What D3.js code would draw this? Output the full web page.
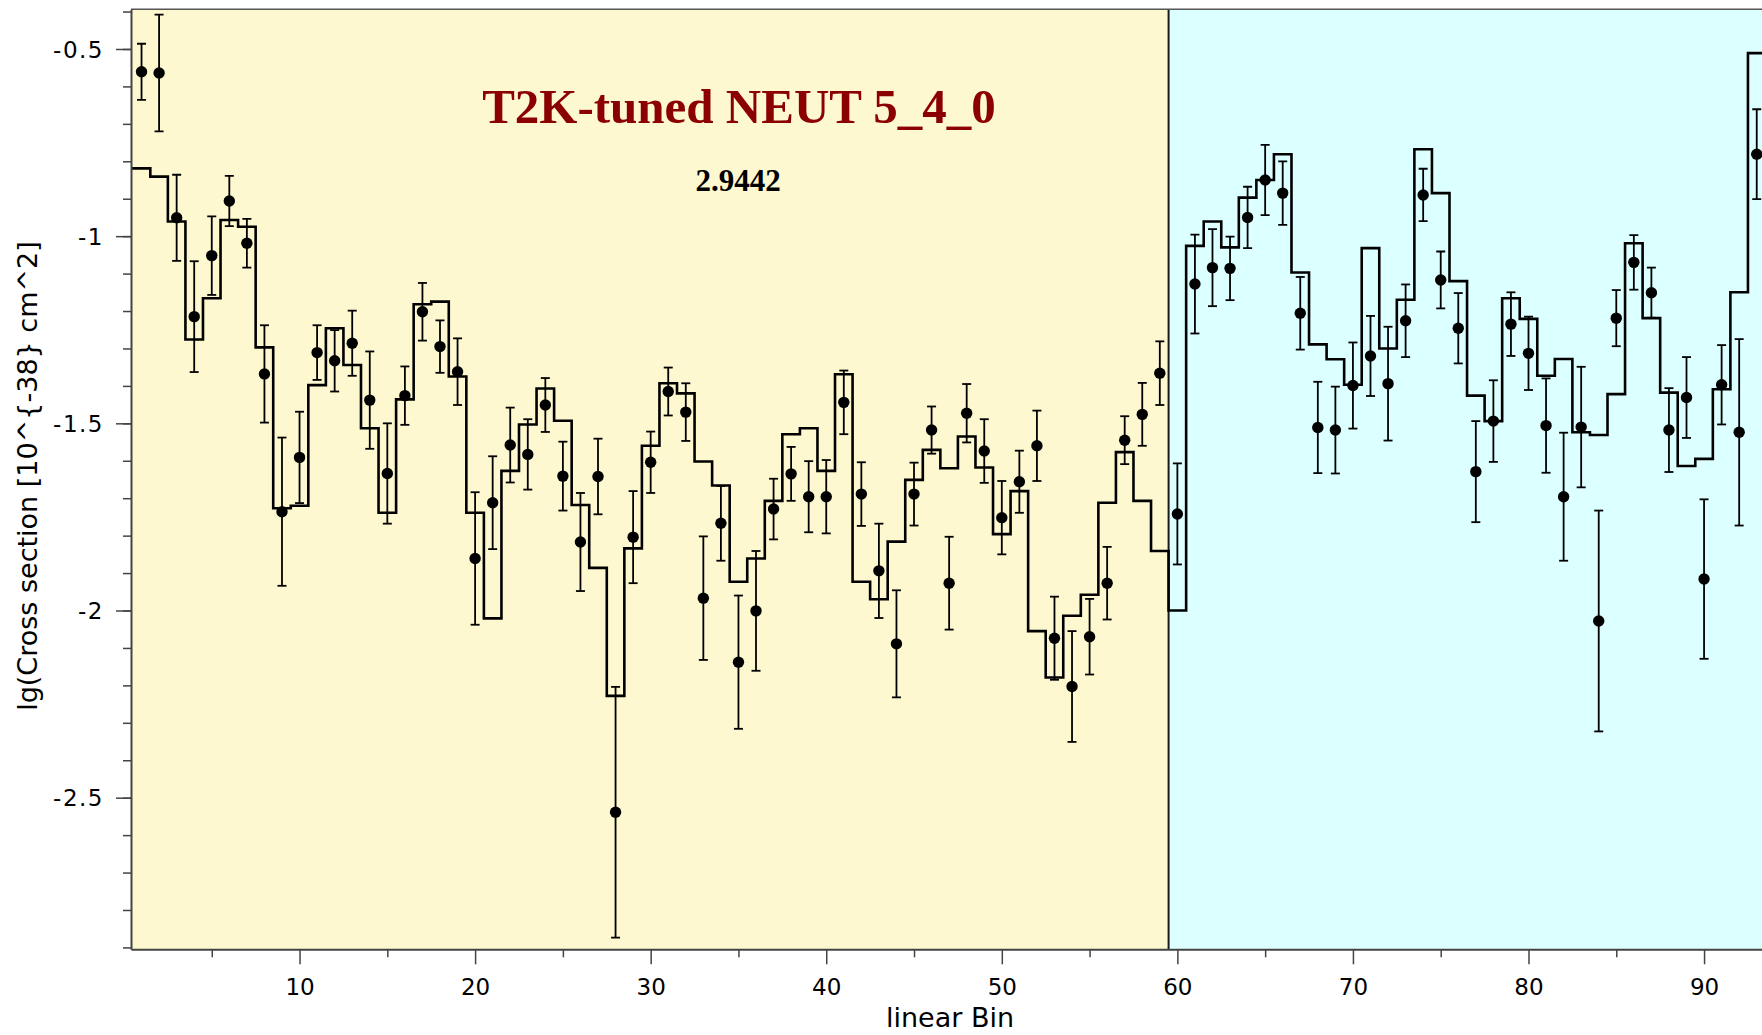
<!DOCTYPE html>
<html>
<head>
<meta charset="utf-8">
<script src="https://cdn.jsdelivr.net/npm/d3@7"></script>
<style>
  html, body { margin: 0; padding: 0; background: #ffffff; }
  svg { display: block; }
</style>
</head>
<body>
<svg id="chart" width="1762" height="1035"></svg>
<script>
// ---------------- data ----------------
const bins = d3.range(1, 94); // linear bin index 1..93

// data points (lg cross section)
const dataValues = [
  -0.561, -0.564, -0.951, -1.215, -1.052, -0.906, -1.019, -1.368, -1.736, -1.591,
  -1.311, -1.333, -1.286, -1.438, -1.634, -1.426, -1.202, -1.295, -1.362, -1.861,
  -1.712, -1.558, -1.583, -1.451, -1.641, -1.817, -1.642, -2.539, -1.804, -1.604,
  -1.415, -1.470, -1.967, -1.767, -2.138, -2.001, -1.729, -1.635, -1.696, -1.696,
  -1.444, -1.689, -1.894, -2.089, -1.689, -1.518, -1.927, -1.473, -1.574, -1.752,
  -1.656, -1.560, -2.074, -2.203, -2.070, -1.927, -1.545, -1.476, -1.366, -1.742,
  -1.128, -1.084, -1.086, -0.950, -0.850, -0.885, -1.206, -1.511, -1.518, -1.399,
  -1.320, -1.394, -1.226, -0.890, -1.117, -1.246, -1.629, -1.494, -1.235, -1.313,
  -1.506, -1.696, -1.510, -2.028, -1.219, -1.070, -1.151, -1.518, -1.431, -1.916,
  -1.397, -1.524, -0.781
];

// symmetric errors on the data points
const dataErrors = [
  0.075, 0.156, 0.115, 0.148, 0.105, 0.067, 0.065, 0.130, 0.198, 0.122,
  0.073, 0.082, 0.087, 0.130, 0.134, 0.078, 0.077, 0.070, 0.089, 0.177,
  0.124, 0.100, 0.094, 0.072, 0.092, 0.131, 0.101, 0.335, 0.123, 0.082,
  0.064, 0.077, 0.165, 0.100, 0.178, 0.160, 0.081, 0.072, 0.095, 0.098,
  0.085, 0.085, 0.126, 0.143, 0.084, 0.063, 0.124, 0.078, 0.085, 0.098,
  0.083, 0.094, 0.111, 0.148, 0.101, 0.097, 0.064, 0.084, 0.085, 0.135,
  0.132, 0.103, 0.085, 0.082, 0.094, 0.085, 0.097, 0.122, 0.116, 0.115,
  0.107, 0.152, 0.097, 0.070, 0.076, 0.094, 0.135, 0.109, 0.085, 0.098,
  0.126, 0.171, 0.161, 0.295, 0.075, 0.073, 0.067, 0.112, 0.108, 0.213,
  0.106, 0.249, 0.120
];

// model prediction histogram (T2K-tuned NEUT 5_4_0)
const modelValues = [
  -0.819, -0.841, -0.961, -1.276, -1.166, -0.957, -0.975, -1.297, -1.727, -1.720,
  -1.398, -1.246, -1.344, -1.513, -1.739, -1.436, -1.182, -1.175, -1.375, -1.739,
  -2.021, -1.627, -1.503, -1.407, -1.493, -1.718, -1.886, -2.228, -1.834, -1.560,
  -1.393, -1.420, -1.602, -1.666, -1.923, -1.861, -1.707, -1.529, -1.513, -1.627,
  -1.369, -1.923, -1.970, -1.816, -1.651, -1.571, -1.620, -1.535, -1.618, -1.796,
  -1.681, -2.055, -2.179, -2.014, -1.958, -1.712, -1.577, -1.707, -1.841, -2.000,
  -1.026, -0.961, -1.030, -0.897, -0.850, -0.781, -1.097, -1.289, -1.329, -1.397,
  -1.032, -1.300, -1.170, -0.768, -0.885, -1.120, -1.426, -1.494, -1.166, -1.221,
  -1.373, -1.328, -1.524, -1.531, -1.422, -1.019, -1.219, -1.418, -1.614, -1.595,
  -1.409, -1.150, -0.511
];

// shaded regions along the linear bin axis
const regionEdges = [0.4, 59.5, 93.3];
const regionColors = ["#fdf8cf", "#dcffff"];

const xTickValues = [10, 20, 30, 40, 50, 60, 70, 80, 90];
const xTickLabels = ["10", "20", "30", "40", "50", "60", "70", "80", "90"];
const xMinorTicks = [5, 15, 25, 35, 45, 55, 65, 75, 85];
const yTickValues = [-2.5, -2, -1.5, -1, -0.5];
const yTickLabels = ["-2.5", "-2", "-1.5", "-1", "-0.5"];
const yMinorTicks = d3.range(-29, -3).map(v => v / 10);

const titleText = "T2K-tuned NEUT 5_4_0";
const chi2Text = "2.9442";
const xTitle = "linear Bin";
const yTitle = "lg(Cross section [10^{-38} cm^2]";

// ---------------- drawing ----------------
(function draw() {
const svg = d3.select("#chart");
const W = 1762;
const pLeft = 131, pTop = 9.3, pBottom = 949.3;

const x = d3.scaleLinear().domain([0.4, 93.3]).range([pLeft, W]);
const y = d3.scaleLinear().domain([-2.905, -0.394]).range([pBottom, pTop]);

const defs = svg.append("defs");
defs.append("clipPath").attr("id", "plotclip")
  .append("rect").attr("x", pLeft).attr("y", pTop)
  .attr("width", W - pLeft).attr("height", pBottom - pTop);

const plot = svg.append("g").attr("clip-path", "url(#plotclip)");

// background regions
plot.selectAll("rect.region")
  .data(regionColors)
  .join("rect")
  .attr("class", "region")
  .attr("x", (d, i) => x(regionEdges[i]))
  .attr("y", pTop)
  .attr("width", (d, i) => x(regionEdges[i + 1]) - x(regionEdges[i]))
  .attr("height", pBottom - pTop)
  .attr("fill", d => d);

// region divider
plot.append("line")
  .attr("x1", x(regionEdges[1])).attr("x2", x(regionEdges[1]))
  .attr("y1", pTop).attr("y2", pBottom)
  .attr("stroke", "#1a1a1a").attr("stroke-width", 2);

// model histogram (steps)
const stepPts = bins.map((b, i) => [i === 0 ? x.domain()[0] : b - 0.5, modelValues[i]]);
stepPts.push([bins[bins.length - 1] + 0.5, modelValues[modelValues.length - 1]]);
const stepLine = d3.line()
  .x(d => x(d[0]))
  .y(d => y(d[1]))
  .curve(d3.curveStepAfter);
plot.append("path")
  .datum(stepPts)
  .attr("d", stepLine)
  .attr("fill", "none")
  .attr("stroke", "#000")
  .attr("stroke-width", 2.6)
  .attr("stroke-linejoin", "miter");

// error bars
const capW = 4.5;
const eb = plot.append("g").attr("stroke", "#000").attr("stroke-width", 1.8);
bins.forEach((b, i) => {
  const cx = x(b), yv = dataValues[i], e = dataErrors[i];
  eb.append("line").attr("x1", cx).attr("x2", cx)
    .attr("y1", y(yv + e)).attr("y2", y(yv - e));
  eb.append("line").attr("x1", cx - capW).attr("x2", cx + capW)
    .attr("y1", y(yv + e)).attr("y2", y(yv + e));
  eb.append("line").attr("x1", cx - capW).attr("x2", cx + capW)
    .attr("y1", y(yv - e)).attr("y2", y(yv - e));
});

// data points
plot.selectAll("circle.pt")
  .data(bins)
  .join("circle")
  .attr("class", "pt")
  .attr("cx", d => x(d))
  .attr("cy", (d, i) => y(dataValues[i]))
  .attr("r", 5.7)
  .attr("fill", "#000");

// frame top line
svg.append("line")
  .attr("x1", pLeft).attr("x2", W).attr("y1", pTop).attr("y2", pTop)
  .attr("stroke", "#555").attr("stroke-width", 1.5);

const tickFont = "'DejaVu Sans', sans-serif";

// x axis
const xAxis = svg.append("g").attr("transform", `translate(0,${pBottom})`)
  .call(d3.axisBottom(x).tickValues(xTickValues).tickSize(15).tickSizeOuter(0)
    .tickFormat((d, i) => xTickLabels[i]));
svg.append("g").attr("transform", `translate(0,${pBottom})`)
  .call(d3.axisBottom(x).tickValues(xMinorTicks).tickSize(8).tickSizeOuter(0).tickFormat(""))
  .call(g => g.select(".domain").remove());
xAxis.select(".domain").attr("stroke", "#444").attr("stroke-width", 2);
xAxis.selectAll(".tick text")
  .attr("font-family", tickFont).attr("font-size", 23).attr("fill", "#000")
  .attr("dy", 0).attr("y", 46);

// y axis
const yAxis = svg.append("g").attr("transform", `translate(${pLeft},0)`)
  .call(d3.axisLeft(y).tickValues(yTickValues).tickSize(15).tickSizeOuter(0)
    .tickFormat((d, i) => yTickLabels[i]));
svg.append("g").attr("transform", `translate(${pLeft},0)`)
  .call(d3.axisLeft(y).tickValues(yMinorTicks).tickSize(8).tickSizeOuter(0).tickFormat(""))
  .call(g => g.select(".domain").remove());
yAxis.select(".domain").attr("stroke", "#444").attr("stroke-width", 2);
yAxis.selectAll(".tick text")
  .attr("font-family", tickFont).attr("font-size", 23).attr("fill", "#000")
  .attr("letter-spacing", 1.5)
  .attr("x", -27).attr("dy", "0.36em");
svg.selectAll(".tick line").attr("stroke", "#444").attr("stroke-width", 1.5);

// axis titles
svg.append("text")
  .attr("x", 950).attr("y", 1027)
  .attr("text-anchor", "middle")
  .attr("font-family", tickFont).attr("font-size", 27)
  .text(xTitle);

svg.append("text")
  .attr("transform", "translate(37,476) rotate(-90)")
  .attr("text-anchor", "middle")
  .attr("font-family", tickFont).attr("font-size", 27)
  .text(yTitle);

// titles
svg.append("text")
  .attr("x", 739).attr("y", 123)
  .attr("text-anchor", "middle")
  .attr("font-family", "'Liberation Serif', 'Times New Roman', serif")
  .attr("font-weight", "bold").attr("font-size", 49)
  .attr("fill", "#8b0000")
  .text(titleText);

svg.append("text")
  .attr("x", 738).attr("y", 191)
  .attr("text-anchor", "middle")
  .attr("font-family", "'Liberation Serif', 'Times New Roman', serif")
  .attr("font-weight", "bold").attr("font-size", 31)
  .attr("fill", "#000")
  .text(chi2Text);
})();
</script>
</body>
</html>
